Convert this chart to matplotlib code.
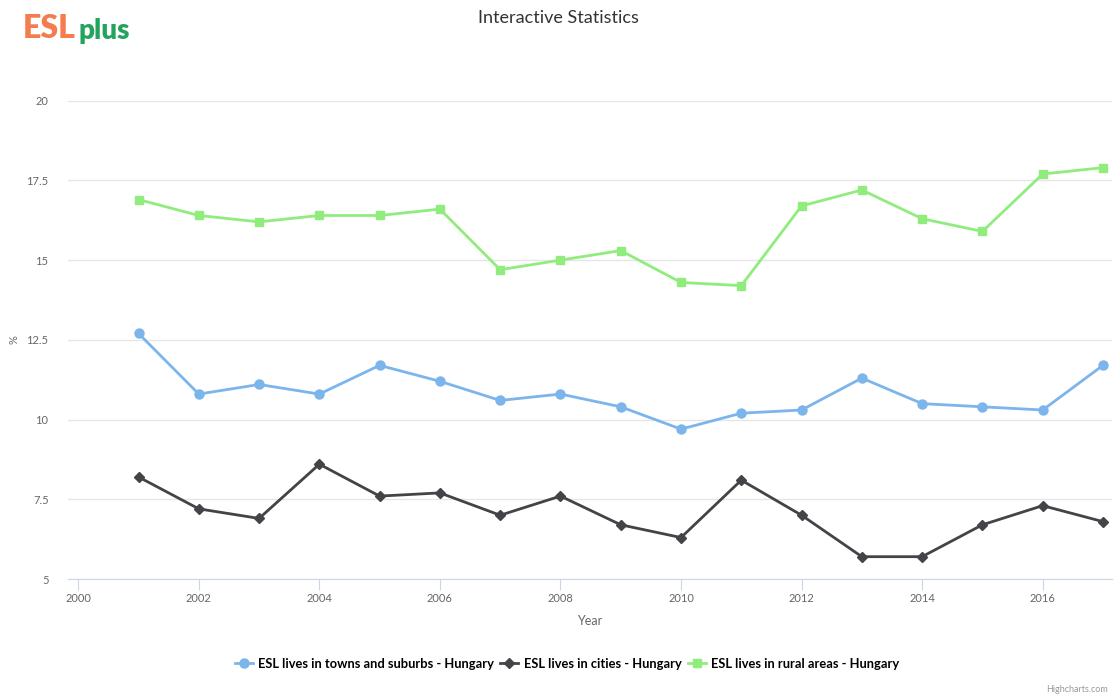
import matplotlib
matplotlib.use("Agg")
import matplotlib.pyplot as plt
from matplotlib.lines import Line2D

years = list(range(2001, 2018))
towns = [12.7, 10.8, 11.1, 10.8, 11.7, 11.2, 10.6, 10.8, 10.4, 9.7, 10.2, 10.3, 11.3, 10.5, 10.4, 10.3, 11.7]
cities = [8.2, 7.2, 6.9, 8.6, 7.6, 7.7, 7.0, 7.6, 6.7, 6.3, 8.1, 7.0, 5.7, 5.7, 6.7, 7.3, 6.8]
rural = [16.9, 16.4, 16.2, 16.4, 16.4, 16.6, 14.7, 15.0, 15.3, 14.3, 14.2, 16.7, 17.2, 16.3, 15.9, 17.7, 17.9]
series_names = ["ESL lives in towns and suburbs - Hungary",
                "ESL lives in cities - Hungary",
                "ESL lives in rural areas - Hungary"]
x_ticks = list(range(2000, 2018, 2))
y_ticks = [5, 7.5, 10, 12.5, 15, 17.5, 20]
y_ticklabels = ["5", "7.5", "10", "12.5", "15", "17.5", "20"]

FONT = ["Lato", "DejaVu Sans"]
plt.rcParams["font.family"] = FONT

fig = plt.figure(figsize=(11.14, 6.99), dpi=100)
ax = fig.add_axes([68/1114, 1-579/699, (1112-68)/1114, (579-100.7)/699])

cols = ["#7cb5ec", "#434348", "#90ed7d"]
markers = ["o", "D", "s"]
msizes = [6.5, 5, 6]
data = [towns, cities, rural]
for d, c, m, ms, n in zip(data, cols, markers, msizes, series_names):
    ax.plot(years, d, color=c, lw=2, marker=m, markersize=ms, label=n, zorder=3)

ax.set_xlim(1999.83, 2017.15)
ax.set_ylim(5, 20)
ax.set_yticks(y_ticks)
ax.set_yticklabels(y_ticklabels)
ax.set_xticks(x_ticks)
ax.set_xticklabels([str(t) for t in x_ticks])
ax.grid(axis="y", color="#e6e6e6", lw=1)
ax.set_axisbelow(True)
for s in ["top", "right", "left"]:
    ax.spines[s].set_visible(False)
ax.spines["bottom"].set_color("#ccd6eb")
ax.tick_params(axis="y", length=0, labelsize=8, labelcolor="#666666", pad=14)
ax.tick_params(axis="x", length=8, color="#ccd6eb", labelsize=8, labelcolor="#666666", pad=2)
ax.set_xlabel("Year", fontsize=9, color="#666666", labelpad=8)
fig.text(14/1114, 1-340/699, "%", rotation=90, fontsize=8, color="#666666", va="center", ha="center")

fig.text(558/1114, 1-18/699, "Interactive Statistics", fontsize=13, color="#333333", ha="center", va="center")

# logo
fig.text(23/1114, 1-28/699, "ESL", fontsize=23, color="#f47c4f", fontweight="heavy", ha="left", va="center")
fig.text(78/1114, 1-31/699, "plus", fontsize=20, color="#22a45d", fontweight="heavy", ha="left", va="center")

handles = [Line2D([0], [0], color=c, lw=2, marker=m, markersize=ms) for c, m, ms in zip(cols, markers, msizes)]
fig.legend(handles, series_names, loc="center", bbox_to_anchor=(567/1114, 1-664/699), ncol=3,
           frameon=False, prop={"family": FONT, "weight": "bold", "size": 9.3},
           handlelength=1.4, handletextpad=0.4, columnspacing=0.5)

fig.text(1108/1114, 1-690/699, "Highcharts.com", fontsize=6.5, color="#999999", ha="right", va="center")

fig.savefig("out.png", dpi=100)
